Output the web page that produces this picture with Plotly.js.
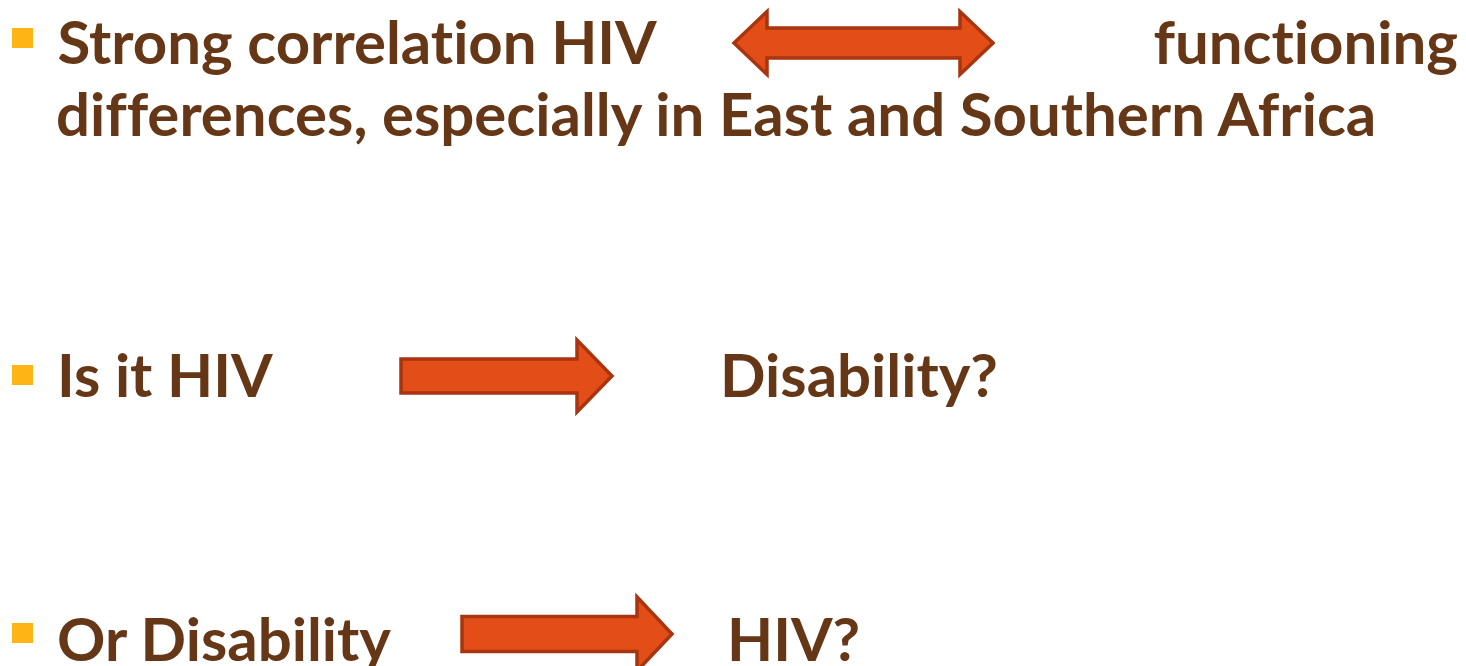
<!DOCTYPE html>
<html>
<head>
<meta charset="utf-8">
<script src="https://cdn.plot.ly/plotly-3.0.1.min.js"></script>
<style>
html,body{margin:0;padding:0;background:#fff;overflow:hidden}
#chart{width:1466px;height:666px}
#chart text{font-variant-ligatures:none;font-feature-settings:"liga" 0,"clig" 0,"dlig" 0}
</style>
</head>
<body>
<div id="chart"></div>
<script>
// ---- content ----
const bulletTexts = ["Strong correlation HIV", "Is it HIV", "Or Disability"];
const targetTexts = ["functioning", "Disability?", "HIV?"];
const continuationTexts = ["differences, especially in East and Southern Africa"];
const arrowKinds = ["both", "right", "right"];

// ---- style / layout ----
const W = 1466, H = 666;
const textColor = "#663716";
const bulletColor = "#FDB515";
const arrowFill = "#E34D17";
const arrowLine = "#A8350F";
const fontFamily = "Lato";

// fit font size so that the long line spans the same width as in the slide
function fitSize(str, target) {
  const c = document.createElement("canvas").getContext("2d");
  c.font = "bold 100px " + fontFamily;
  const w = c.measureText(str).width;
  return 100 * target / w;
}
const fs = fitSize(continuationTexts[0], 1322);
const descent = 0.213 * fs;

const textLeft = 55;
const rows = [
  {baseline: 65, bulletTop: 28, targetX: 1460, targetAnchor: "right",
   arrow: {x0: 734, x1: 993, cy: 43, shaftH: 30, headH: 63, headL: 33}},
  {baseline: 398, bulletTop: 365, targetX: 718, targetAnchor: "left",
   arrow: {x0: 401, x1: 612, cy: 376, shaftH: 34, headH: 72, headL: 35}},
  {baseline: 662, bulletTop: 623, targetX: 725, targetAnchor: "left",
   arrow: {x0: 462, x1: 672, cy: 634, shaftH: 35, headH: 74, headL: 35}}
];

function arrowPath(kind, a) {
  const sT = a.cy - a.shaftH / 2, sB = a.cy + a.shaftH / 2;
  const hT = a.cy - a.headH / 2, hB = a.cy + a.headH / 2;
  const rb = a.x1 - a.headL;
  if (kind === "both") {
    const lb = a.x0 + a.headL;
    return `M ${a.x0},${a.cy} L ${lb},${hT} L ${lb},${sT} L ${rb},${sT} L ${rb},${hT} L ${a.x1},${a.cy} ` +
           `L ${rb},${hB} L ${rb},${sB} L ${lb},${sB} L ${lb},${hB} Z`;
  }
  return `M ${a.x0},${sT} L ${rb},${sT} L ${rb},${hT} L ${a.x1},${a.cy} L ${rb},${hB} L ${rb},${sB} L ${a.x0},${sB} Z`;
}

const shapes = [];
const annotations = [];
const font = {family: fontFamily, size: fs, color: textColor, weight: 700};

function textAt(t, x, baseline, xanchor) {
  // anchor at the baseline (inside the axis range), shift down by the descent
  return {text: t, x: x, y: baseline, xref: "x", yref: "y", yshift: -(descent + 1),
    xanchor: xanchor, yanchor: "bottom", showarrow: false, font: font};
}

bulletTexts.forEach((t, i) => {
  const r = rows[i];
  shapes.push({type: "rect", xref: "x", yref: "y", x0: 12, x1: 33, y0: r.bulletTop, y1: r.bulletTop + 20,
    fillcolor: bulletColor, line: {width: 0}});
  shapes.push({type: "path", xref: "x", yref: "y", path: arrowPath(arrowKinds[i], r.arrow),
    fillcolor: arrowFill, line: {color: arrowLine, width: 3.5}});
  annotations.push(textAt(t, textLeft, r.baseline, "left"));
  annotations.push(textAt(targetTexts[i], r.targetX, r.baseline, r.targetAnchor));
});
annotations.push(textAt(continuationTexts[0], textLeft, 137, "left"));

const layout = {
  width: W, height: H,
  margin: {l: 0, r: 0, t: 0, b: 0, pad: 0},
  paper_bgcolor: "#ffffff", plot_bgcolor: "#ffffff",
  xaxis: {range: [0, W], visible: false, fixedrange: true},
  yaxis: {range: [H, 0], visible: false, fixedrange: true},
  showlegend: false,
  shapes: shapes,
  annotations: annotations
};

Plotly.newPlot("chart", [], layout, {staticPlot: true, displayModeBar: false});
</script>
</body>
</html>
